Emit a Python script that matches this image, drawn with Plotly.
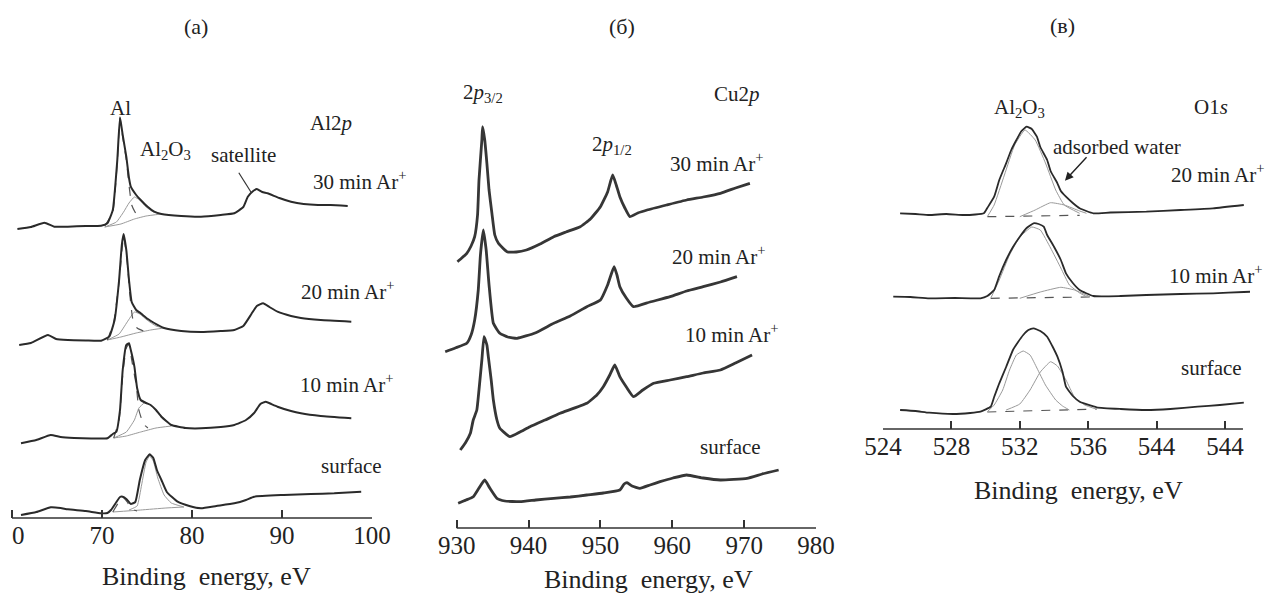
import plotly.graph_objects as go

W, H = 1271, 596
FONT = "Liberation Serif"
INK = "#2a2a2a"
GREY = "#9a9a9a"

# ---------------- Panel (a): Al2p ----------------
A_TICKS = [60, 70, 80, 90, 100]
A_TICKTEXT = ["\u00a0\u00a00", "70", "80", "90", "100"]

A30_E = [60.6, 62.1, 63.6, 64.7, 66.2, 68.2, 69.9, 70.6, 71.2, 71.7, 72.0, 72.3, 72.7, 73.0, 73.2, 73.8, 74.3, 75.1, 75.8, 76.6, 78.8, 81.0, 83.2, 84.7, 85.7, 86.2, 86.8, 87.2, 87.8, 88.4, 89.7, 91.0, 92.4, 94.0, 95.4, 97.3]
A30_I = [289, 291, 295.3, 291.3, 291.3, 292, 292.3, 294.7, 308, 358, 400.7, 383, 361.3, 340, 331.3, 323, 318, 311, 306.3, 304, 302, 301.3, 303, 304.7, 311, 321.3, 327, 329, 326, 324.7, 320, 316.3, 314, 313, 313, 312]
A30_AL_E = [70.3, 71.2, 71.7, 72.0, 72.3, 72.7, 73.0, 73.3, 73.8, 74.3]
A30_AL_I = [292, 306, 356, 400, 381, 358, 333, 313, 304, 301]
A30_OX_E = [70.3, 71.6, 72.4, 73.0, 73.6, 74.2, 74.9, 75.7, 76.6]
A30_OX_I = [291, 296, 306, 315, 321, 318, 311, 306, 304]
A30_BG_E = [70.3, 72.1, 73.6, 74.9, 76.6]
A30_BG_I = [291, 294, 299, 302, 304]

A20_E = [60.8, 62.1, 64.0, 64.9, 66.2, 68.2, 69.9, 70.8, 71.4, 71.9, 72.2, 72.4, 72.7, 73.0, 73.3, 73.8, 74.3, 75.1, 75.8, 76.9, 78.8, 81.0, 83.2, 84.7, 85.7, 86.6, 87.2, 87.9, 88.6, 89.5, 91.0, 92.1, 94.3, 97.7]
A20_I = [173, 175, 183, 179, 178, 177.5, 177.3, 181.3, 198, 238, 273, 284, 268, 238, 216, 208, 204.7, 199, 195, 190, 187, 186, 187, 188, 192, 204, 212, 214.7, 211, 206.3, 202, 200, 198, 196.3]
A20_AL_E = [70.6, 71.3, 71.9, 72.4, 72.8, 73.1, 73.4, 73.9, 74.6]
A20_AL_I = [178, 196, 236, 282, 256, 223, 200, 190, 187]
A20_OX_E = [70.6, 71.9, 72.8, 73.6, 74.2, 75.0, 76.0, 76.9]
A20_OX_I = [178, 184, 196, 206, 204, 198, 192, 190]
A20_BG_E = [70.6, 72.1, 73.8, 75.4, 76.9]
A20_BG_I = [178, 181, 185, 188, 190]

A10_E = [61.0, 62.7, 64.3, 65.4, 66.9, 68.8, 70.6, 71.2, 71.6, 72.0, 72.3, 72.7, 73.0, 73.2, 73.6, 73.9, 74.3, 74.9, 75.4, 76.0, 76.6, 77.7, 79.3, 81.0, 83.2, 84.7, 86.0, 86.9, 87.6, 88.2, 88.8, 89.5, 91.0, 92.1, 94.3, 97.7]
A10_I = [74.7, 78, 83, 81, 80, 79.5, 79.7, 84, 86.3, 108, 148, 173, 174.7, 168, 151.3, 130, 118, 115, 113, 108, 101.3, 93, 90, 89.7, 91, 93, 98, 105, 114, 116.3, 114, 111.3, 107, 104.7, 102, 99.7]
A10_AL_E = [71.3, 71.9, 72.3, 72.7, 73.0, 73.3, 73.8, 74.1, 74.6, 75.1]
A10_AL_I = [80, 98, 143, 170, 174, 158, 133, 108, 94, 90]
A10_OX_E = [71.3, 72.7, 73.6, 74.1, 74.7, 75.2, 76.0, 76.8, 77.7]
A10_OX_I = [80, 86, 98, 110, 115, 114, 108, 100, 93]
A10_BG_E = [71.3, 72.7, 74.3, 76.0, 77.7]
A10_BG_I = [80, 82, 86, 90, 92]

AS_E = [61.0, 62.7, 64.3, 65.4, 66.2, 68.2, 69.9, 70.6, 71.0, 71.6, 72.0, 72.3, 72.7, 73.2, 73.7, 74.2, 74.8, 75.3, 75.7, 76.1, 76.6, 77.2, 78.4, 79.7, 81.0, 82.7, 84.7, 86.0, 86.9, 90.2, 93.2, 95.8, 98.8]
AS_I = [3, 6, 10.7, 10, 8.7, 7, 4.7, 5, 8, 16, 21, 21.3, 19, 14, 16, 38, 58, 63.7, 60, 48, 38, 26, 16.3, 12, 9.7, 12, 14.7, 18, 21.3, 23, 24, 24.7, 26.3]
AS_AL_E = [71.2, 71.8, 72.3, 72.8, 73.3, 73.9]
AS_AL_I = [6, 15, 21, 16, 9, 7]
AS_OX_E = [73.0, 73.9, 74.4, 74.9, 75.3, 75.7, 76.2, 76.9, 77.7, 79.1]
AS_OX_I = [8, 12, 33, 56, 62, 57, 40, 23, 15, 11]
AS_BG_E = [71.2, 74.3, 77.1, 79.1]
AS_BG_I = [6, 8, 10, 11]

# ---------------- Panel (б): Cu2p ----------------
B_TICKS = [930, 940, 950, 960, 970, 980]
B_TICKTEXT = ["930", "940", "950", "960", "970", "980"]

B30_E = [930.1, 930.7, 931.4, 932.0, 932.5, 932.9, 933.1, 933.5, 933.6, 933.9, 934.2, 934.5, 934.9, 935.3, 935.8, 937.0, 938.3, 939.7, 941.6, 943.5, 945.2, 947.2, 948.6, 950.0, 951.0, 951.7, 952.2, 952.7, 953.4, 954.1, 955.2, 956.5, 959.2, 962.0, 964.3, 966.7, 968.8, 970.8]
B30_I = [266.3, 270, 274.7, 282, 291.3, 313, 348, 388, 401.3, 388, 364.7, 338, 314.7, 293, 284.7, 276.3, 276, 278, 284, 291.3, 296, 301.3, 309, 321.3, 336, 353, 343, 331.3, 320, 311.3, 315, 318, 323, 328, 331, 334.7, 340, 344.7]

B20_E = [928.4, 929.8, 931.4, 932.0, 932.5, 933.0, 933.3, 933.7, 934.1, 934.5, 935.1, 936.0, 937.1, 938.4, 940.9, 943.5, 945.8, 948.1, 950.0, 951.0, 951.9, 952.3, 952.7, 953.6, 954.6, 956.9, 959.7, 962.0, 964.3, 966.7, 969.0]
B20_I = [176.3, 180, 184.7, 193, 208, 238, 273, 298, 278, 243, 204.7, 194.7, 191, 189.7, 195, 204.7, 212, 221.3, 228, 243, 261.3, 253, 241.3, 230, 221.3, 226, 231.3, 237, 241.3, 246, 251.3]

B10_E = [930.5, 931.2, 931.9, 932.3, 932.8, 933.1, 933.5, 933.8, 934.2, 934.4, 934.8, 935.1, 935.6, 936.0, 937.4, 938.8, 940.2, 942.3, 944.4, 948.1, 949.5, 950.4, 951.3, 952.0, 952.7, 953.7, 954.6, 955.9, 957.4, 959.7, 962.0, 964.3, 966.7, 968.8, 971.1]
B10_I = [78, 85, 94.7, 108, 118, 138, 168, 191.3, 183, 171.3, 148, 128, 108, 99.7, 91.3, 96, 101.3, 108, 114.7, 124.7, 133, 141.3, 153, 163, 151.3, 140, 131.3, 138, 144.7, 148, 151.3, 155, 158, 165, 173]

BS_E = [930.2, 931.3, 932.3, 933.1, 933.9, 934.6, 935.6, 936.7, 938.8, 941.0, 943.5, 945.8, 948.1, 950.4, 952.7, 953.3, 953.7, 954.4, 955.5, 956.9, 958.3, 960.1, 962.0, 964.3, 966.7, 970.4, 972.5, 974.8]
BS_I = [24.7, 28, 31.3, 40, 48, 40, 29.7, 27, 26.3, 28, 29.7, 31, 33, 35, 38, 44, 45.3, 42, 39.7, 43, 46.3, 50, 53, 50, 48, 49.7, 54, 58]

# ---------------- Panel (в): O1s ----------------
C_TICKS = [524, 528, 532, 536, 540, 544]
C_TICKTEXT = ["524", "528", "532", "536", "544", "544"]

C20_E = [525.0, 525.9, 526.7, 527.7, 528.7, 529.4, 529.9, 530.1, 530.5, 530.8, 531.2, 531.5, 531.8, 532.1, 532.4, 532.7, 533.0, 533.2, 533.6, 533.8, 534.2, 534.4, 534.7, 535.1, 535.5, 536.3, 537.3, 539.4, 541.4, 543.3, 545.1]
C20_I = [215.7, 215, 214, 215, 214, 214.5, 215.7, 221, 232.3, 249, 265.7, 279, 289, 298, 302.3, 300, 292.3, 282, 269, 258, 245.7, 238, 232.3, 226, 220.7, 215.7, 216.5, 217.3, 219, 220.7, 224]
C20_OX_E = [530.1, 530.5, 531.1, 531.7, 532.3, 532.9, 533.5, 534.1, 534.6, 535.5]
C20_OX_I = [212.3, 224, 254, 284, 299, 289, 266, 239, 224, 215.7]
C20_W_E = [532.0, 532.9, 533.8, 534.6, 535.5, 535.9]
C20_W_I = [212.3, 219, 226.3, 224, 218, 215.7]
C20_BG_E = [530.1, 535.5]
C20_BG_I = [212.3, 213.7]

C10_E = [524.6, 525.6, 526.7, 528.2, 529.7, 530.1, 530.5, 530.8, 531.2, 531.6, 532.0, 532.4, 532.8, 533.1, 533.4, 533.6, 534.0, 534.4, 534.7, 535.1, 535.5, 536.3, 537.9, 539.4, 541.4, 543.3, 545.1, 545.5]
C10_I = [132.3, 132, 130.7, 131, 130.7, 133, 139, 153, 169, 182, 192.3, 201, 205.7, 205, 202.3, 194, 182.3, 169, 155.7, 146, 139, 133, 133, 134, 135, 135.7, 137, 137.3]
C10_OX_E = [530.3, 530.8, 531.4, 532.0, 532.7, 533.2, 533.8, 534.4, 534.9, 535.5, 535.9]
C10_OX_I = [130.7, 149, 174, 192, 202, 199, 181, 161, 144, 136, 132.3]
C10_W_E = [532.0, 533.2, 534.4, 535.2, 536.1]
C10_W_I = [130.7, 137, 141.7, 139, 132.3]
C10_BG_E = [530.3, 536.1]
C10_BG_I = [130.7, 132]

CS_E = [525.0, 525.9, 526.7, 528.1, 529.1, 529.7, 530.3, 530.5, 530.8, 531.2, 531.6, 531.9, 532.2, 532.5, 532.8, 533.2, 533.6, 533.9, 534.2, 534.5, 534.7, 535.1, 535.5, 536.5, 537.9, 539.4, 540.8, 542.4, 543.7, 545.1]
CS_I = [19, 18, 16.3, 15, 16, 17.3, 22.3, 32, 45.7, 62, 79, 87, 94, 99, 100.7, 98, 92.3, 83, 72.3, 57, 42.3, 33, 27.3, 21.7, 20, 19, 20, 22.3, 24, 26.3]
CS_C1_E = [530.1, 530.5, 531.0, 531.4, 531.8, 532.2, 532.6, 533.0, 533.5, 534.1, 534.5, 534.9]
CS_C1_I = [17.3, 24, 39, 59, 74, 78, 74, 61, 44, 29, 23, 19]
CS_C2_E = [531.2, 532.0, 532.6, 533.2, 533.8, 534.2, 534.7, 535.2, 535.8, 536.5]
CS_C2_I = [19, 25, 39, 57, 67.3, 63, 49, 32, 24, 19.7]
CS_BG_E = [530.1, 536.5]
CS_BG_I = [17, 20]

fig = go.Figure()


def add(x, y, ax, color=INK, width=2.0, dash="solid"):
    fig.add_trace(go.Scatter(
        x=x, y=y, xaxis=ax[0], yaxis=ax[1], mode="lines",
        line=dict(color=color, width=width, dash=dash, shape="spline", smoothing=0.4),
        hoverinfo="skip", showlegend=False))


AXA, AXB, AXC = ("x", "y"), ("x2", "y2"), ("x3", "y3")

# panel a
for E, I, al, ali, ox, oxi, bg, bgi in [
        (A30_E, A30_I, A30_AL_E, A30_AL_I, A30_OX_E, A30_OX_I, A30_BG_E, A30_BG_I),
        (A20_E, A20_I, A20_AL_E, A20_AL_I, A20_OX_E, A20_OX_I, A20_BG_E, A20_BG_I),
        (A10_E, A10_I, A10_AL_E, A10_AL_I, A10_OX_E, A10_OX_I, A10_BG_E, A10_BG_I),
        (AS_E, AS_I, AS_AL_E, AS_AL_I, AS_OX_E, AS_OX_I, AS_BG_E, AS_BG_I)]:
    add(bg, bgi, AXA, GREY, 1.0)
    add(ox, oxi, AXA, GREY, 1.0)
    add(al, ali, AXA, "#555555", 1.2, "dash")
    add(E, I, AXA, INK, 2.0)

# panel б
for E, I in [(B30_E, B30_I), (B20_E, B20_I), (B10_E, B10_I), (BS_E, BS_I)]:
    add(E, I, AXB, "#363636", 2.8)

# panel в
for bg, bgi, comps, E, I in [
        (C20_BG_E, C20_BG_I, [(C20_OX_E, C20_OX_I), (C20_W_E, C20_W_I)], C20_E, C20_I),
        (C10_BG_E, C10_BG_I, [(C10_OX_E, C10_OX_I), (C10_W_E, C10_W_I)], C10_E, C10_I),
        (CS_BG_E, CS_BG_I, [(CS_C1_E, CS_C1_I), (CS_C2_E, CS_C2_I)], CS_E, CS_I)]:
    add(bg, bgi, AXC, "#555555", 1.2, "dash")
    for ce, ci in comps:
        add(ce, ci, AXC, GREY, 1.0)
    add(E, I, AXC, INK, 1.8)


def xaxis(px0, px1, rng, tv, tt, axis_py):
    return dict(domain=[px0 / W, px1 / W], range=rng, tickvals=tv, ticktext=tt,
                ticks="inside", ticklen=8, tickwidth=1.5, tickcolor="#333",
                showline=False, showgrid=False, zeroline=False, automargin=False,
                ticklabeloverflow="allow",
                anchor="free", position=(H - axis_py) / H,
                tickfont=dict(family=FONT, size=25, color="#222"), fixedrange=True)


def yaxis(axis_py, anchor):
    return dict(domain=[0, 1], range=[-(H - axis_py), axis_py], visible=False,
                automargin=False, anchor=anchor, fixedrange=True)


fig.update_layout(
    width=W, height=H, margin=dict(l=0, r=0, t=0, b=0, pad=0, autoexpand=False),
    paper_bgcolor="white", plot_bgcolor="white", showlegend=False,
    xaxis=xaxis(10, 372, [60 - 2 / 9, 100], A_TICKS, A_TICKTEXT, 518),
    yaxis=yaxis(518, "x"),
    xaxis2=xaxis(440, 816, [930 - 16.7 / 7.18, 980], B_TICKS, B_TICKTEXT, 528),
    yaxis2=yaxis(528, "x2"),
    xaxis3=xaxis(883, 1250, [524, 524 + 367 / 17.1], C_TICKS, C_TICKTEXT, 429),
    yaxis3=yaxis(429, "x3"),
)

# axis base lines
for xr, yr, x0, x1 in [("x", "y", A_TICKS[0], A_TICKS[-1]),
                       ("x2", "y2", B_TICKS[0], B_TICKS[-1]),
                       ("x3", "y3", C_TICKS[0], 545.05)]:
    fig.add_shape(type="line", xref=xr, yref=yr, x0=x0, x1=x1, y0=0, y1=0,
                  line=dict(color="#333", width=1.5))

# satellite pointer
fig.add_shape(type="line", xref="x", yref="y", x0=85.2, y0=345.3, x1=86.6, y1=325.3,
              line=dict(color="#333", width=1.2))


def txt(x, y, s, ax, size=21, xanchor="center"):
    fig.add_annotation(x=x, y=y, xref=ax[0], yref=ax[1], text=s, showarrow=False,
                       xanchor=xanchor, yanchor="middle",
                       font=dict(family=FONT, size=size, color="#222"))


ARP = "min Ar<sup>+</sup>"
# panel a labels
txt(80.4, 492, "(a)", AXA, 22)
txt(72.1, 410, "Al", AXA)
txt(77.1, 368, "Al<sub>2</sub>O<sub>3</sub>", AXA)
txt(85.7, 363, "satellite", AXA)
txt(95.4, 395, "Al2<i>p</i>", AXA)
txt(93.2, 338, "30 " + ARP, AXA, xanchor="left")
txt(91.9, 228, "20 " + ARP, AXA, xanchor="left")
txt(91.8, 135, "10 " + ARP, AXA, xanchor="left")
txt(97.7, 52, "surface", AXA)

# panel б labels
txt(953.0, 502, "(б)", AXB, 22)
txt(933.66, 435, "2<i>p</i><sub>3/2</sub>", AXB)
txt(969.0, 434, "Cu2<i>p</i>", AXB)
txt(951.6, 383, "2<i>p</i><sub>1/2</sub>", AXB)
txt(959.4, 366, "30 " + ARP, AXB, xanchor="left")
txt(959.7, 273, "20 " + ARP, AXB, xanchor="left")
txt(961.5, 195, "10 " + ARP, AXB, xanchor="left")
txt(968.1, 81, "surface", AXB)

# panel в labels
txt(534.5, 404, "(в)", AXC, 22)
txt(532.0, 321, "Al<sub>2</sub>O<sub>3</sub>", AXC)
txt(543.2, 322, "O1<i>s</i>", AXC)
txt(537.7, 282, "adsorbed water", AXC)
txt(540.7, 256, "20 " + ARP, AXC, xanchor="left")
txt(540.6, 155, "10 " + ARP, AXC, xanchor="left")
txt(543.2, 61, "surface", AXC)
fig.add_annotation(x=534.64, y=248.3, xref="x3", yref="y3", ax=23, ay=-25,
                   showarrow=True, arrowhead=2, arrowsize=1.2, arrowwidth=1.4,
                   arrowcolor="#222", text="")

# axis titles
for cx, cy in [(206, 576), (648, 579), (1078, 490)]:
    fig.add_annotation(x=cx / W, y=1 - cy / H, xref="paper", yref="paper",
                       text="Binding\u00a0 energy, eV", showarrow=False,
                       xanchor="center", yanchor="middle",
                       font=dict(family=FONT, size=26, color="#222"))

fig.write_html("out.html", config={"responsive": False, "displayModeBar": False},
               post_script="document.body.style.margin='0px';document.body.style.overflow='hidden';")
